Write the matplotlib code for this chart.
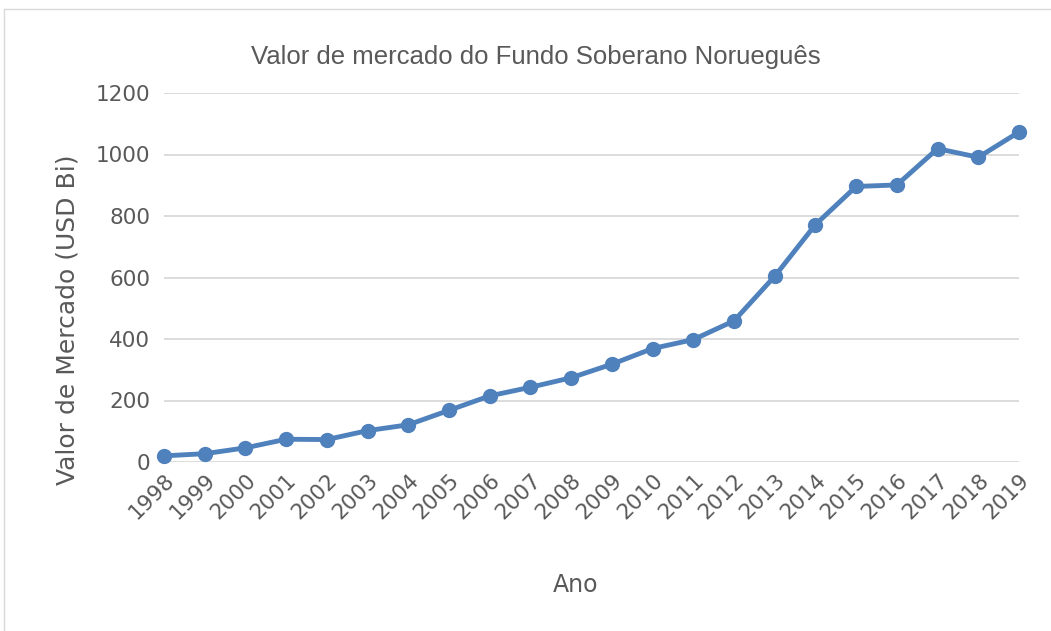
import matplotlib
matplotlib.use("Agg")
import matplotlib.pyplot as plt
from matplotlib.patches import Rectangle

years = ["1998", "1999", "2000", "2001", "2002", "2003", "2004", "2005", "2006", "2007", "2008",
         "2009", "2010", "2011", "2012", "2013", "2014", "2015", "2016", "2017", "2018", "2019"]
values = [20, 27, 46, 74, 73, 102, 121, 168, 215, 243, 274,
          318, 369, 398, 459, 604, 772, 896, 901, 1019, 991, 1073]
yticks = [0, 200, 400, 600, 800, 1000, 1200]

W, H = 1051, 631
fig = plt.figure(figsize=(W / 100, H / 100), dpi=100)
fig.patch.set_facecolor("white")

# chart border
fig.add_artist(Rectangle((4 / W, 0 - 0.01), 1.1, (H - 9) / H + 0.01, transform=fig.transFigure,
                         fill=False, edgecolor="#d9d9d9", linewidth=1.0))

left, right, top, bottom = 164, 1019, 93, 462
ax = fig.add_axes([left / W, 1 - bottom / H, (right - left) / W, (bottom - top) / H])

x = list(range(len(years)))
ax.plot(x, values, color="#4f81bd", linewidth=3.5, marker="o", markersize=10,
        markerfacecolor="#4f81bd", markeredgecolor="#4f81bd", solid_joinstyle="round", zorder=3,
        clip_on=False)

ax.set_xlim(0, len(years) - 1)
ax.set_ylim(0, 1200)
ax.set_yticks(yticks)
ax.set_yticklabels([str(v) for v in yticks])
ax.set_xticks(x)
ax.set_xticklabels(years, rotation=45, ha="right", va="top", rotation_mode="anchor")

ax.grid(axis="y", color="#d9d9d9", linewidth=1.3)
ax.set_axisbelow(True)
for s in ax.spines.values():
    s.set_visible(False)
ax.tick_params(axis="both", length=0, labelsize=15.5, labelcolor="#595959")
ax.tick_params(axis="y", pad=10)
ax.tick_params(axis="x", pad=6)

fig.text(536 / W, 1 - 57 / H, "Valor de mercado do Fundo Soberano Norueguês", fontsize=18.5,
         color="#595959", family="Liberation Sans", ha="center", va="center")
fig.text(576 / W, 1 - 585 / H, "Ano", fontsize=17, color="#595959", ha="center", va="center")
fig.text(68 / W, 1 - 320 / H, "Valor de Mercado (USD Bi)", fontsize=18, color="#595959",
         ha="center", va="center", rotation=90)

fig.savefig("out.png", dpi=100, facecolor="white")
